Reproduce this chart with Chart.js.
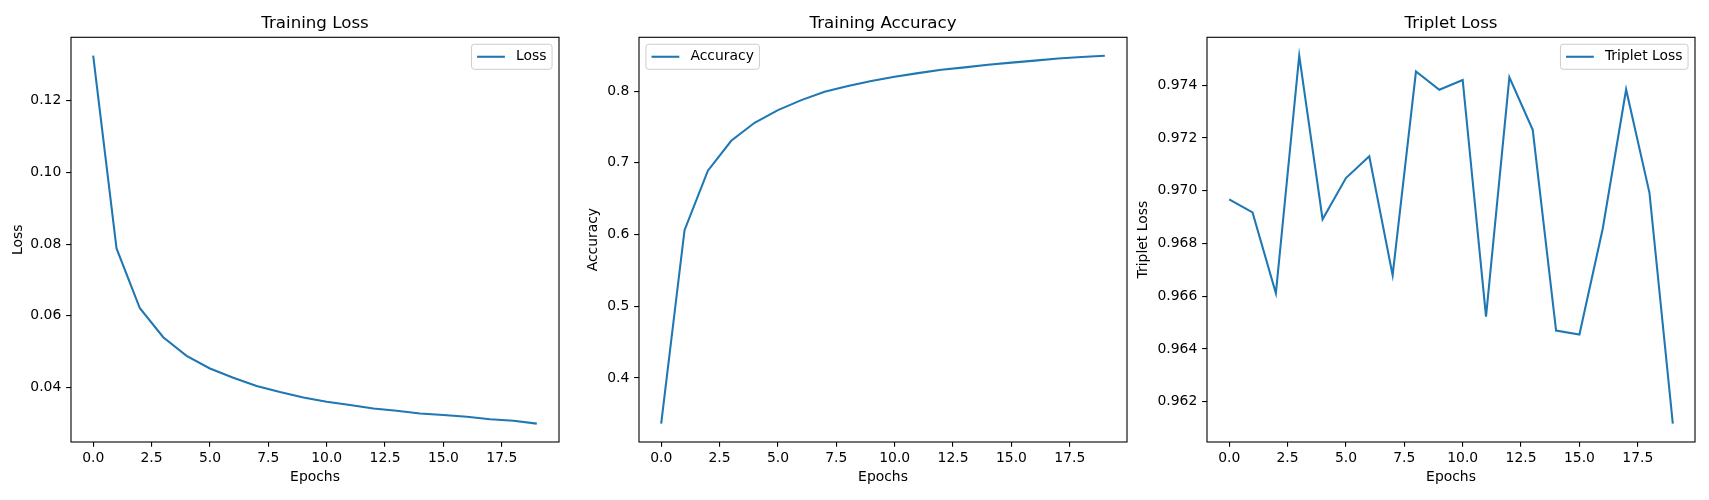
<!DOCTYPE html>
<html>
<head>
<meta charset="utf-8">
<script src="https://cdn.jsdelivr.net/npm/chart.js@4/dist/chart.umd.min.js"></script>
<style>
  html, body { margin: 0; padding: 0; background: #fff; width: 1709px; height: 500px; overflow: hidden; }
  .panel { position: absolute; top: 0; width: 574px; height: 500px; }
</style>
</head>
<body>
<div class="panel" style="left:-4px"><canvas id="c1"></canvas></div>
<div class="panel" style="left:564px"><canvas id="c2"></canvas></div>
<div class="panel" style="left:1132px"><canvas id="c3"></canvas></div>
<script>
// ---------- data ----------
const epochs = [0, 1, 2, 3, 4, 5, 6, 7, 8, 9, 10, 11, 12, 13, 14, 15, 16, 17, 18, 19];
const lossValues = [0.1326, 0.0788, 0.0621, 0.0540, 0.0488, 0.0453, 0.0427, 0.0404, 0.0387, 0.0372,
                    0.0360, 0.0351, 0.0341, 0.0335, 0.0327, 0.0323, 0.0318, 0.0311, 0.0307, 0.0299];
const accuracyValues = [0.3364, 0.6060, 0.6890, 0.7307, 0.7558, 0.7735, 0.7874, 0.7990, 0.8070, 0.8140,
                        0.8200, 0.8250, 0.8297, 0.8330, 0.8368, 0.8396, 0.8424, 0.8455, 0.8475, 0.8493];
const tripletValues = [0.96967, 0.96918, 0.96611, 0.97512, 0.96892, 0.97048, 0.97131, 0.96680, 0.97452, 0.97383,
                       0.97420, 0.96523, 0.97430, 0.97231, 0.96470, 0.96455, 0.96857, 0.97384, 0.96992, 0.96117];
const xTicks = [0, 2.5, 5, 7.5, 10, 12.5, 15, 17.5];
const lossTicks = [0.04, 0.06, 0.08, 0.10, 0.12];
const accuracyTicks = [0.4, 0.5, 0.6, 0.7, 0.8];
const tripletTicks = [0.962, 0.964, 0.966, 0.968, 0.970, 0.972, 0.974];

// ---------- styling ----------
const FAMILY = "'DejaVu Sans', sans-serif";
const FS = 13.9;       // 10pt
const TFS = 16.67;     // 12pt
const LINE_COLOR = '#1f77b4';
Chart.defaults.font.family = FAMILY;
Chart.defaults.color = '#000';

function marginRange(arr) {
  const mn = Math.min(...arr), mx = Math.max(...arr);
  const p = (mx - mn) * 0.05;
  return [mn - p, mx + p];
}

// frame + matplotlib-like legend
const mplDecor = {
  id: 'mplDecor',
  afterDraw(chart, args, opts) {
    const { ctx, chartArea: a } = chart;
    ctx.save();
    ctx.strokeStyle = '#000';
    ctx.lineWidth = 1.1;
    ctx.strokeRect(a.left, a.top, a.right - a.left, a.bottom - a.top);

    const ds = chart.data.datasets[0];
    ctx.font = FS + 'px ' + FAMILY;
    const tw = ctx.measureText(ds.label).width;
    const pad = 0.4 * FS, hl = 2 * FS, htp = 0.8 * FS, bap = 0.5 * FS;
    const w = pad * 2 + hl + htp + tw;
    const h = pad * 2 + FS;
    const x = opts.loc === 'upper left' ? a.left + bap : a.right - bap - w;
    const y = a.top + bap;
    const r = 0.2 * FS;
    ctx.beginPath();
    ctx.moveTo(x + r, y);
    ctx.lineTo(x + w - r, y);
    ctx.arcTo(x + w, y, x + w, y + r, r);
    ctx.lineTo(x + w, y + h - r);
    ctx.arcTo(x + w, y + h, x + w - r, y + h, r);
    ctx.lineTo(x + r, y + h);
    ctx.arcTo(x, y + h, x, y + h - r, r);
    ctx.lineTo(x, y + r);
    ctx.arcTo(x, y, x + r, y, r);
    ctx.closePath();
    ctx.fillStyle = 'rgba(255,255,255,0.8)';
    ctx.fill();
    ctx.strokeStyle = '#cccccc';
    ctx.lineWidth = 1;
    ctx.stroke();

    ctx.beginPath();
    ctx.strokeStyle = ds.borderColor;
    ctx.lineWidth = ds.borderWidth;
    ctx.moveTo(x + pad, y + h / 2);
    ctx.lineTo(x + pad + hl, y + h / 2);
    ctx.stroke();

    ctx.fillStyle = '#000';
    ctx.textAlign = 'left';
    ctx.textBaseline = 'middle';
    ctx.fillText(ds.label, x + pad + hl + htp, y + h / 2);
    ctx.restore();
  }
};

function makeChart(id, cfg) {
  const [xmin, xmax] = marginRange(epochs);
  const [ymin, ymax] = marginRange(cfg.values);
  return new Chart(document.getElementById(id), {
    type: 'line',
    data: {
      datasets: [{
        label: cfg.label,
        data: epochs.map((e, i) => ({ x: e, y: cfg.values[i] })),
        borderColor: LINE_COLOR,
        borderWidth: 2.08,
        pointRadius: 0,
        tension: 0,
        fill: false
      }]
    },
    options: {
      responsive: true,
      maintainAspectRatio: false,
      animation: false,
      layout: { padding: { left: 0, right: 11, top: 0, bottom: 0 } },
      plugins: {
        legend: { display: false },
        tooltip: { enabled: false },
        title: {
          display: true, text: cfg.title, fullSize: false, color: '#000',
          font: { size: TFS, family: FAMILY, weight: 'normal', lineHeight: 1.2 },
          padding: { top: 13.2, bottom: 4.1 }
        },
        mplDecor: { loc: cfg.loc }
      },
      scales: {
        x: {
          type: 'linear', min: xmin, max: xmax,
          afterBuildTicks: s => { s.ticks = xTicks.map(v => ({ value: v })); },
          afterFit: s => { s.height = 58; },
          grid: { display: true, drawOnChartArea: false, drawTicks: true, tickLength: 4.86, color: '#000', lineWidth: 1.1 },
          border: { display: false },
          ticks: { padding: 2.9, color: '#000', font: { size: FS }, maxRotation: 0, autoSkip: false,
                   callback: v => Number(v).toFixed(1) },
          title: { display: true, text: 'Epochs', color: '#000', font: { size: FS, lineHeight: 1.2 },
                   padding: { top: 0, bottom: 14 } }
        },
        y: {
          type: 'linear', min: ymin, max: ymax,
          afterBuildTicks: s => { s.ticks = cfg.ticks.map(v => ({ value: v })); },
          afterFit: s => { s.width = 75; },
          grid: { display: true, drawOnChartArea: false, drawTicks: true, tickLength: 4.86, color: '#000', lineWidth: 1.1 },
          border: { display: false },
          ticks: { padding: 4.86, color: '#000', font: { size: FS }, autoSkip: false,
                   callback: v => Number(v).toFixed(cfg.decimals) },
          title: { display: true, text: cfg.ylabel, color: '#000', font: { size: FS, lineHeight: 1.2 },
                   padding: { top: cfg.ylabelPad, bottom: 0 } }
        }
      }
    },
    plugins: [mplDecor]
  });
}

makeChart('c1', { title: 'Training Loss', label: 'Loss', ylabel: 'Loss', values: lossValues,
                  ticks: lossTicks, decimals: 2, loc: 'upper right', ylabelPad: 13.7 });
makeChart('c2', { title: 'Training Accuracy', label: 'Accuracy', ylabel: 'Accuracy', values: accuracyValues,
                  ticks: accuracyTicks, decimals: 1, loc: 'upper left', ylabelPad: 20.7 });
makeChart('c3', { title: 'Triplet Loss', label: 'Triplet Loss', ylabel: 'Triplet Loss', values: tripletValues,
                  ticks: tripletTicks, decimals: 3, loc: 'upper right', ylabelPad: 2.7 });
</script>
</body>
</html>
